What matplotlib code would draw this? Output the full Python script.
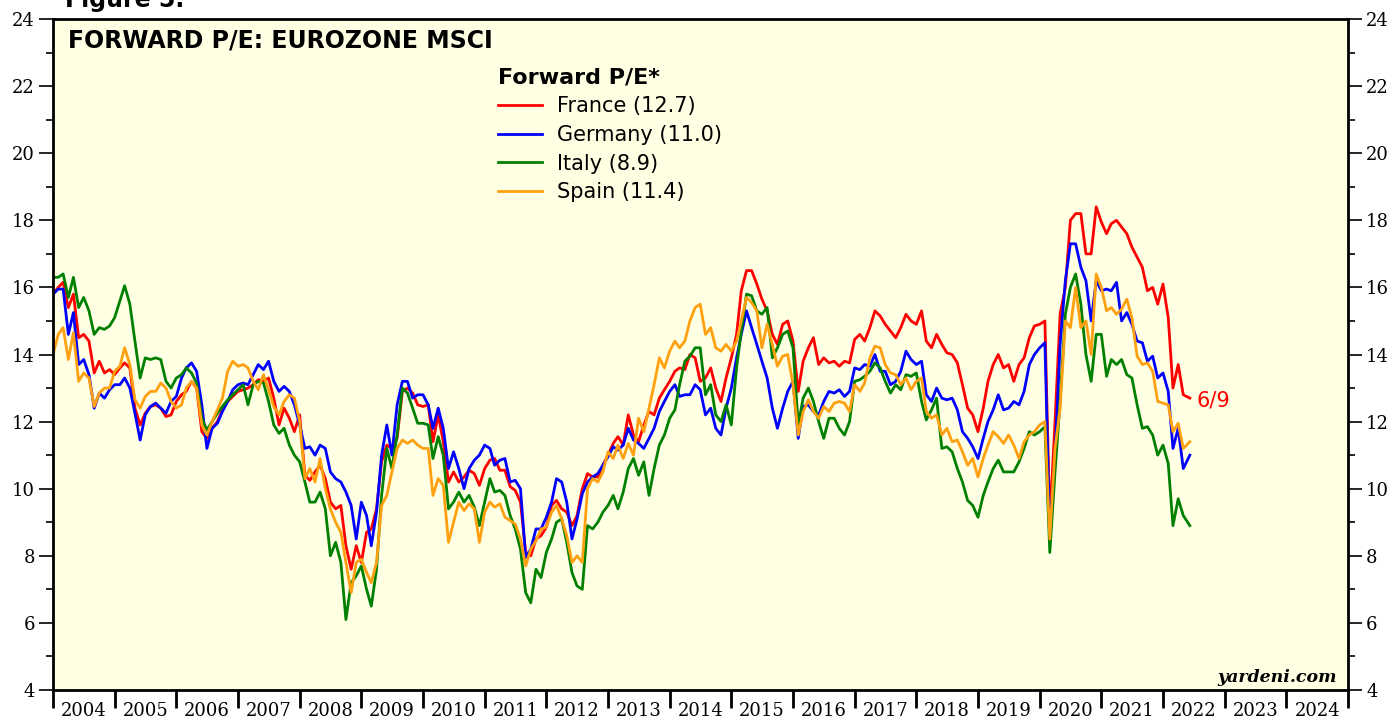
#!/usr/bin/env python3
import numpy as np
import pandas as pd
import matplotlib
matplotlib.use('Agg')
import matplotlib.pyplot as plt

# monthly forward P/E, Jan 2004 .. May 2022, last point is 6/9/2022
france = [
    15.8, 16.0, 16.15, 15.4, 15.8, 14.5, 14.6, 14.4, 13.45, 13.8, 13.45, 13.55,
    13.4, 13.6, 13.75, 13.6, 12.4, 11.9, 12.25, 12.45, 12.5, 12.4, 12.15, 12.2,
    12.6, 12.8, 12.9, 13.2, 13.0, 11.7, 11.5, 11.8, 12.0, 12.35, 12.6, 12.75,
    12.9, 12.95, 13.0, 13.1, 13.25, 13.2, 13.3, 12.7, 11.9, 12.4, 12.1, 11.7,
    12.2, 10.4, 10.25, 10.5, 10.7, 10.3, 9.6, 9.4, 9.5, 8.3, 7.6, 8.3,
    7.8, 8.7, 8.8, 9.4, 10.8, 11.3, 11.2, 11.5, 12.9, 13.0, 12.85, 12.5,
    12.45, 12.5, 11.4, 12.2, 11.4, 10.2, 10.5, 10.2, 10.35, 10.55, 10.45, 10.1,
    10.6, 10.85, 10.9, 10.55, 10.55, 10.06, 9.95, 9.6, 8.1, 8.0, 8.5, 8.6,
    8.85, 9.5, 9.65, 9.4, 9.3, 8.9, 9.2, 10.0, 10.45, 10.35, 10.35, 10.7,
    11.0, 11.35, 11.55, 11.3, 12.2, 11.6, 11.4, 11.9, 12.3, 12.2, 12.7, 12.95,
    13.2, 13.5, 13.6, 13.55, 14.0, 13.9, 13.2, 13.3, 13.6, 13.0, 12.6, 13.3,
    13.9, 14.6, 15.9, 16.5, 16.5, 16.1, 15.65, 15.3, 14.6, 14.3, 14.9, 15.0,
    14.4, 12.9, 13.8, 14.2, 14.5, 13.7, 13.9, 13.75, 13.8, 13.65, 13.8, 13.75,
    14.45, 14.6, 14.4, 14.8, 15.3, 15.15, 14.9, 14.7, 14.5, 14.8, 15.2, 15.0,
    14.9, 15.3, 14.4, 14.2, 14.6, 14.3, 14.05, 14.0, 13.75, 13.1, 12.4, 12.2,
    11.7, 12.4, 13.2, 13.7, 14.0, 13.6, 13.7, 13.2, 13.7, 13.9, 14.5, 14.85,
    14.9, 15.0, 9.0, 12.0, 15.2, 16.0, 18.0, 18.2, 18.2, 17.0, 17.0, 18.4,
    17.95, 17.6, 17.9, 18.0, 17.8, 17.6, 17.2, 16.9, 16.6, 15.9, 16.0, 15.5,
    16.1, 15.1, 13.0, 13.7, 12.8, 12.7,
]
germany = [
    15.8, 15.95, 15.95, 14.6, 15.25, 13.7, 13.85, 13.4, 12.4, 12.85, 12.7, 12.95,
    13.1, 13.1, 13.3, 13.0, 12.25, 11.45, 12.2, 12.45, 12.55, 12.4, 12.25, 12.6,
    12.75, 13.3, 13.6, 13.75, 13.5, 12.5, 11.2, 11.8, 11.95, 12.3, 12.6, 12.95,
    13.1, 13.15, 13.1, 13.4, 13.7, 13.55, 13.8, 13.2, 12.9, 13.05, 12.9, 12.5,
    11.9, 11.2, 11.25, 11.0, 11.3, 11.2, 10.5, 10.3, 10.2, 9.9, 9.5, 8.5,
    9.6, 9.2, 8.3, 9.3, 11.0, 11.9, 11.0, 12.5, 13.2, 13.2, 12.7, 12.8,
    12.8, 12.5, 11.8, 12.4, 11.8, 10.6, 11.1, 10.6, 10.0, 10.6, 10.85, 11.0,
    11.3, 11.2, 10.7, 10.85, 10.9, 10.2, 10.25, 10.0, 7.95, 8.2, 8.8, 8.8,
    9.15, 9.6, 10.3, 10.2, 9.6, 8.5, 9.1, 9.85, 10.2, 10.35, 10.45, 10.7,
    10.95, 11.25, 11.15, 11.3, 11.8, 11.45, 11.35, 11.2, 11.5, 11.8, 12.3, 12.6,
    12.9, 13.1, 12.75, 12.8, 12.8, 13.1, 12.95, 12.2, 12.4, 11.8, 11.6, 12.4,
    13.0, 13.9, 14.6, 15.3, 14.8, 14.3, 13.8, 13.3, 12.4, 11.8, 12.4, 12.9,
    13.2, 11.5, 12.45, 12.5, 12.3, 12.2, 12.6, 12.9, 12.85, 12.95, 12.75, 12.9,
    13.6, 13.55, 13.7, 13.65, 14.0, 13.5, 13.5, 13.1, 13.2, 13.5, 14.1, 13.85,
    13.7, 13.8, 12.8, 12.6, 13.0, 12.7, 12.65, 12.7, 12.35, 11.7, 11.5, 11.25,
    10.9, 11.5, 12.0, 12.35, 12.8, 12.35, 12.4, 12.6, 12.5, 12.9, 13.7, 14.0,
    14.2, 14.35, 8.6, 11.0, 14.3, 16.2, 17.3, 17.3, 16.6, 16.2, 15.0, 16.2,
    15.9, 15.95, 15.9, 16.15, 15.0, 15.25, 14.9, 14.4, 14.35, 13.8, 13.95, 13.3,
    13.45, 12.9, 11.2, 11.8, 10.6, 11.0,
]
italy = [
    16.3, 16.3, 16.4, 15.7, 16.3, 15.4, 15.7, 15.3, 14.6, 14.8, 14.75, 14.85,
    15.1, 15.6, 16.05, 15.5, 14.4, 13.3, 13.9, 13.85, 13.9, 13.85, 13.2, 13.0,
    13.3, 13.4, 13.6, 13.45, 13.15, 12.1, 11.75, 12.0, 12.25, 12.45, 12.65, 12.8,
    12.95, 13.1, 12.5, 13.1, 13.2, 13.15, 12.6, 11.9, 11.65, 11.8, 11.3, 11.0,
    10.8, 10.2, 9.6, 9.6, 9.9, 9.4, 8.0, 8.4, 7.8, 6.1, 7.2, 7.4,
    7.7, 7.0, 6.5, 7.6, 9.8, 11.2, 10.6, 11.6, 13.0, 12.85, 12.4, 11.95,
    11.95, 11.9, 10.9, 11.55, 11.0, 9.4, 9.6, 9.9, 9.6, 9.8, 9.45, 8.9,
    9.6, 10.3, 9.9, 9.95, 9.8, 9.2, 8.8, 8.2, 6.9, 6.6, 7.6, 7.35,
    8.1, 8.5, 9.0, 9.1, 8.4, 7.5, 7.1, 7.0, 8.9, 8.8, 9.0, 9.3,
    9.5, 9.8, 9.4, 9.9, 10.6, 10.9, 10.4, 10.8, 9.8, 10.6, 11.3, 11.6,
    12.1, 12.35, 13.1, 13.8, 13.95, 14.2, 14.2, 12.8, 13.1, 12.2, 12.0, 12.5,
    11.9, 13.6, 14.7, 15.8, 15.75, 15.3, 15.2, 15.4, 13.9, 14.2, 14.6, 14.7,
    14.2, 11.9, 12.7, 13.0, 12.6, 12.0, 11.5, 12.1, 12.1, 11.8, 11.6, 12.0,
    13.2, 13.25, 13.35, 13.5, 13.75, 13.6, 13.2, 12.85, 13.1, 12.95, 13.4, 13.35,
    13.45, 12.6, 12.05, 12.35, 12.7, 11.2, 11.25, 11.1, 10.6, 10.2, 9.65, 9.5,
    9.15, 9.8, 10.2, 10.6, 10.85, 10.5, 10.5, 10.5, 10.8, 11.2, 11.7, 11.6,
    11.7, 11.85, 8.1, 10.5, 12.6, 15.2, 16.0, 16.4, 15.5, 14.0, 13.2, 14.6,
    14.6, 13.35, 13.85, 13.7, 13.85, 13.4, 13.3, 12.5, 11.8, 11.85, 11.6, 11.0,
    11.3, 10.75, 8.9, 9.7, 9.2, 8.9,
]
spain = [
    14.0, 14.6, 14.8, 13.85, 14.65, 13.2, 13.45, 13.3, 12.45, 12.85, 13.0, 13.0,
    13.5, 13.65, 14.2, 13.7, 12.65, 12.4, 12.75, 12.9, 12.9, 13.15, 13.0, 12.6,
    12.4, 12.5, 13.0, 13.2, 13.0, 11.9, 11.6, 12.0, 12.35, 12.7, 13.5, 13.8,
    13.65, 13.7, 13.6, 13.2, 12.95, 13.4, 12.95, 12.45, 12.2, 12.6, 12.8, 12.7,
    12.0, 10.3, 10.6, 10.2, 10.9, 10.0, 9.4, 9.0, 8.7, 7.8, 6.9, 7.8,
    7.9, 7.5, 7.2, 7.8, 9.5, 9.8, 10.5, 11.2, 11.45, 11.35, 11.45, 11.3,
    11.2, 11.2, 9.8, 10.3, 10.1, 8.4, 9.0, 9.6, 9.35, 9.55, 9.4, 8.4,
    9.3, 9.6, 9.45, 9.55, 9.15, 9.05, 8.95, 8.5, 7.7, 8.2, 8.45, 8.8,
    8.85, 9.3, 9.5, 9.1, 8.6, 7.8, 8.0, 7.8, 10.0, 10.3, 10.2, 10.5,
    11.1, 10.9, 11.3, 10.9, 11.35, 11.0, 12.1, 11.7, 12.4, 13.1, 13.9, 13.6,
    14.1, 14.4, 14.2, 14.4, 15.0, 15.4, 15.5, 14.6, 14.8, 14.2, 14.1, 14.3,
    14.1, 14.4, 15.0, 15.7, 15.55, 15.3, 14.2, 14.9, 14.3, 13.65, 13.95, 14.0,
    13.1, 11.6, 12.3, 12.65, 12.3, 12.1, 12.45, 12.3, 12.55, 12.6, 12.55, 12.3,
    13.1, 12.9, 13.15, 13.9, 14.25, 14.2, 13.7, 13.45, 13.4, 13.1, 13.3, 12.95,
    13.2, 13.3, 12.3, 12.1, 12.2, 11.6, 11.8, 11.4, 11.45, 11.1, 10.7, 10.9,
    10.35, 10.9, 11.3, 11.7, 11.55, 11.35, 11.6, 11.3, 10.9, 11.4, 11.6, 11.7,
    11.9, 12.0, 8.5, 11.2, 12.4, 15.0, 14.8, 16.0, 14.8, 15.0, 14.0, 16.4,
    16.0, 15.3, 15.4, 15.2, 15.35, 15.65, 15.1, 13.95, 13.7, 13.75, 13.5, 12.6,
    12.55, 12.5, 11.7, 11.95, 11.2, 11.4,
]
countries = ['France', 'Germany', 'Italy', 'Spain']
colors = ['#FF0000', '#0000FF', '#008000', '#FFA010']
year_labels = [str(y) for y in range(2004, 2025)]

# dates -> decimal years
dates = list(pd.date_range('2004-01-01', '2022-05-01', freq='MS')) + [pd.Timestamp('2022-06-09')]
t = np.array([d.year + (d.dayofyear - 1) / 365.25 for d in dates])

fig = plt.figure(figsize=(13.95, 7.19), dpi=100)
ax = fig.add_axes([53 / 1395, 29 / 719, 1295 / 1395, 671 / 719])
ax.set_facecolor('#FFFFE3')

for name, vals, col in zip(countries, [france, germany, italy, spain], colors):
    ax.plot(t, vals, color=col, lw=2.0, label=f'{name} ({vals[-1]:.1f})')

ax.set_xlim(2004, 2025)
ax.set_ylim(4, 24)

# y axis: labels on both sides
ax.set_yticks(range(4, 25, 2))
ax.set_yticks(range(5, 24, 2), minor=True)
ax.yaxis.set_ticks_position('both')
ax.tick_params(axis='y', which='major', direction='out', length=10, width=1.2,
               labelleft=True, labelright=True, labelsize=13, pad=3)
ax.tick_params(axis='y', which='minor', direction='out', length=5, width=1.2)

# x axis: ticks at year boundaries, labels in between
ax.set_xticks(range(2004, 2026))
ax.set_xticklabels([])
ax.set_xticks(np.arange(2004.5, 2025, 1), minor=True)
ax.set_xticklabels(year_labels, minor=True)
ax.tick_params(axis='x', which='major', direction='out', length=13, width=2)
ax.tick_params(axis='x', which='minor', length=0, labelsize=13, pad=9)
for lab in ax.get_xticklabels(minor=True) + ax.yaxis.get_ticklabels(which='major'):
    lab.set_family('DejaVu Serif')

for sp in ax.spines.values():
    sp.set_linewidth(2)

ax.text(0.0116, 0.957, 'FORWARD P/E: EUROZONE MSCI', transform=ax.transAxes,
        family='DejaVu Sans', fontweight='bold', fontsize=17, va='baseline')

leg = ax.legend(loc='upper left', bbox_to_anchor=(0.344, 0.928), frameon=False,
                title='Forward P/E*', alignment='left', prop={'family': 'DejaVu Sans', 'size': 15},
                handlelength=2.1, handletextpad=0.7, labelspacing=0.42,
                borderaxespad=0, borderpad=0)
leg.get_title().set_fontweight('bold')
leg.get_title().set_fontsize(16)
leg.get_title().set_family('DejaVu Sans')

ax.annotate('6/9', xy=(t[-1], france[-1]), xytext=(5, -2), textcoords='offset points',
            color='#FF0000', fontsize=15, family='DejaVu Sans', va='center')

ax.text(0.991, 0.012, 'yardeni.com', transform=ax.transAxes, ha='right', va='baseline',
        family='DejaVu Serif', fontweight='bold', style='italic', fontsize=12.5)

# the source crops this caption at the top edge
fig.text(65 / 1395, 1 - 7 / 719, 'Figure 5.', family='DejaVu Sans', fontweight='bold',
         fontsize=17, va='baseline')

plt.savefig('out.png', dpi=100)
